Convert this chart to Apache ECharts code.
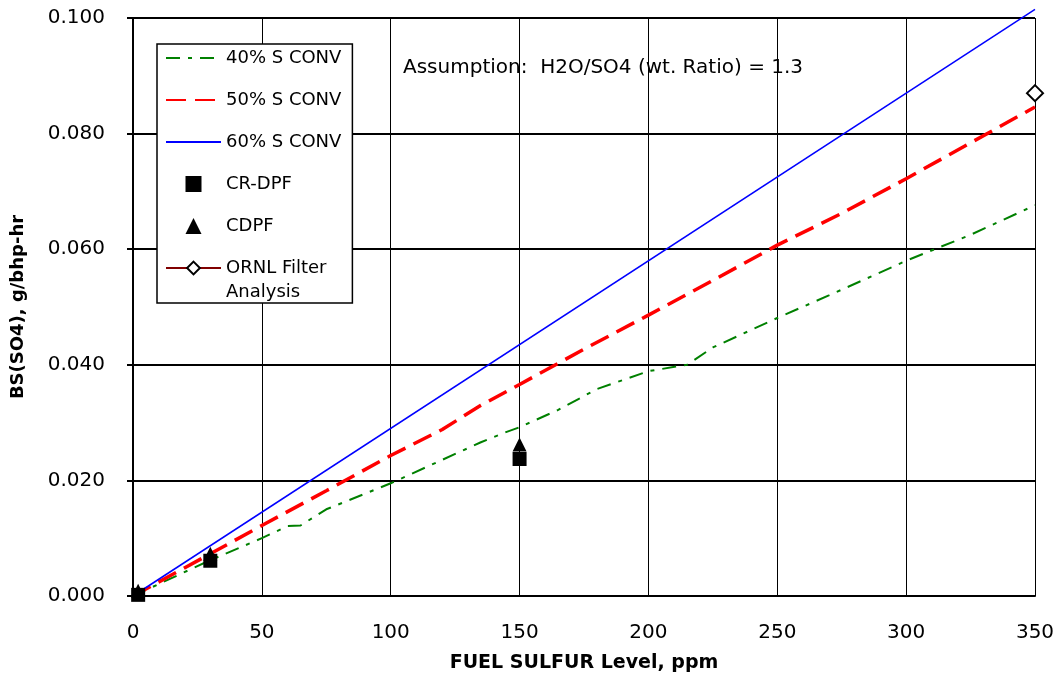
<!DOCTYPE html>
<html>
<head>
<meta charset="utf-8">
<script src="https://cdn.jsdelivr.net/npm/echarts@6/dist/echarts.min.js"></script>
<style>
html,body{margin:0;padding:0;background:#fff;}
#chart{width:1058px;height:681px;}
</style>
</head>
<body>
<div id="chart"></div>
<script>
// ---- data ----
const seriesNames = ['40% S CONV', '50% S CONV', '60% S CONV', 'CR-DPF', 'CDPF', 'ORNL Filter Analysis'];

const sulfur40 = [0, 30, 50, 60, 65, 75, 100, 135, 145, 150, 165, 180, 200, 215, 225, 250, 270, 300, 325, 350];
const conv40   = [0, 0.0062, 0.0100, 0.0121, 0.0122, 0.0150, 0.0195, 0.0266, 0.0284, 0.0292, 0.0322, 0.0358, 0.0389, 0.0400, 0.0430, 0.0481, 0.0520, 0.0580, 0.0625, 0.0676];

const sulfur50 = [0, 30, 50, 75, 100, 120, 135, 150, 175, 200, 225, 250, 275, 300, 325, 350];
const conv50   = [0, 0.0073, 0.0122, 0.0182, 0.0243, 0.0288, 0.0330, 0.0366, 0.0427, 0.0486, 0.0546, 0.0607, 0.0662, 0.0722, 0.0784, 0.0846];

const sulfur60 = [0, 350];
const conv60   = [0, 0.1015];

const sulfurCRDPF = [2, 30, 150];
const valCRDPF    = [0.0002, 0.0061, 0.0237];

const sulfurCDPF = [2, 30, 150];
const valCDPF    = [0.0009, 0.0073, 0.0262];

const sulfurORNL = [350];
const valORNL    = [0.087];

const xTicks = [0, 50, 100, 150, 200, 250, 300, 350];
const yTicks = ['0.000', '0.020', '0.040', '0.060', '0.080', '0.100'];

const xName = 'FUEL SULFUR Level, ppm';
const yName = 'BS(SO4), g/bhp-hr';
const note = 'Assumption:  H2O/SO4 (wt. Ratio) = 1.3';
const ornlLine1 = 'ORNL Filter';
const ornlLine2 = 'Analysis';

function pairs(xs, ys) { return xs.map((x, i) => [x, ys[i]]); }

const FONT = 'DejaVu Sans';
const SQUARE = 'path://M0,0H10V10H0Z';
const TRIANGLE = 'path://M5,0L10,10H0Z';
const chart = echarts.init(document.getElementById('chart'), null, {renderer: 'canvas'});

const hideSym = {opacity: 0};

const option = {
  backgroundColor: '#fff',
  animation: false,
  grid: {left: 133, right: 23, top: 18, bottom: 85, containLabel: false},
  xAxis: {
    type: 'value',
    min: xTicks[0], max: xTicks[xTicks.length - 1], interval: 50,
    name: xName, nameLocation: 'middle', nameGap: 58,
    nameTextStyle: {fontFamily: FONT, fontWeight: 'bold', fontSize: 19, color: '#000'},
    axisLine: {show: true, onZero: false, lineStyle: {color: '#000', width: 2}},
    axisTick: {show: false},
    axisLabel: {fontFamily: FONT, fontSize: 20, color: '#000', margin: 27},
    splitLine: {show: true, lineStyle: {color: '#000', width: 1}}
  },
  yAxis: {
    type: 'value',
    min: 0, max: 0.1, interval: 0.02,
    name: yName, nameLocation: 'middle', nameGap: 106, nameRotate: 90,
    nameTextStyle: {fontFamily: FONT, fontWeight: 'bold', fontSize: 18, color: '#000'},
    axisLine: {show: true, lineStyle: {color: '#000', width: 2}},
    axisTick: {show: true, length: 6, lineStyle: {color: '#000', width: 2}},
    axisLabel: {fontFamily: FONT, fontSize: 20, color: '#000', margin: 28,
      formatter: (v) => yTicks[Math.round(v / 0.02)]},
    splitLine: {show: true, lineStyle: {color: '#000', width: 2}}
  },
  legend: {
    orient: 'vertical',
    left: 157, top: 44,
    padding: [4, 11, 25, 8],
    backgroundColor: '#fff',
    borderColor: '#000', borderWidth: 1.5,
    itemWidth: 55, itemHeight: 16, itemGap: 22,
    textStyle: {fontFamily: FONT, fontSize: 18, color: '#000', lineHeight: 20},
    data: [
      {name: seriesNames[0], itemStyle: hideSym},
      {name: seriesNames[1], itemStyle: hideSym},
      {name: seriesNames[2], itemStyle: hideSym},
      {name: seriesNames[3], icon: SQUARE},
      {name: seriesNames[4], icon: TRIANGLE},
      {name: seriesNames[5]}
    ],
    formatter: (n) => n === seriesNames[5] ? ornlLine1 : n
  },
  graphic: [
    {type: 'text', left: 403, top: 58, z: 100,
     style: {text: note, font: '20px "DejaVu Sans"', fill: '#000'}},
    {type: 'text', left: 226, top: 283, z: 100,
     style: {text: ornlLine2, font: '18px "DejaVu Sans"', fill: '#000'}}
  ],
  series: [
    {
      name: seriesNames[0], type: 'line', symbol: 'none', clip: false,
      data: pairs(sulfur40, conv40),
      itemStyle: {color: '#008000'},
      lineStyle: {color: '#008000', width: 2, type: [14, 8, 4, 8]}
    },
    {
      name: seriesNames[1], type: 'line', symbol: 'none', clip: false,
      data: pairs(sulfur50, conv50),
      itemStyle: {color: '#ff0000'},
      lineStyle: {color: '#ff0000', width: 3.5, type: [20, 9]}
    },
    {
      name: seriesNames[2], type: 'line', symbol: 'none', clip: false,
      data: pairs(sulfur60, conv60),
      itemStyle: {color: '#0000ff'},
      lineStyle: {color: '#0000ff', width: 1.5}
    },
    {
      name: seriesNames[3], type: 'scatter', symbol: 'rect', symbolSize: 14, clip: false,
      data: pairs(sulfurCRDPF, valCRDPF),
      itemStyle: {color: '#000', opacity: 1}, z: 5
    },
    {
      name: seriesNames[4], type: 'scatter', symbol: 'triangle', symbolSize: 14, clip: false,
      data: pairs(sulfurCDPF, valCDPF),
      itemStyle: {color: '#000', opacity: 1}, z: 6
    },
    {
      name: seriesNames[5], type: 'line', symbol: 'diamond', symbolSize: 16, clip: false,
      showAllSymbol: true,
      data: pairs(sulfurORNL, valORNL),
      lineStyle: {color: '#800000', width: 2},
      itemStyle: {color: '#fff', borderColor: '#000', borderWidth: 2}, z: 7
    }
  ]
};
chart.setOption(option);
</script>
</body>
</html>
